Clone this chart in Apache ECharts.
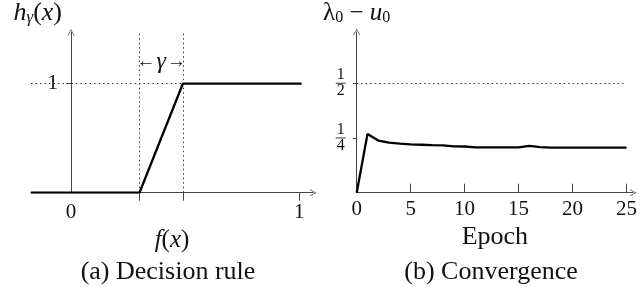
<!DOCTYPE html>
<html><head><meta charset="utf-8">
<script src="https://cdn.jsdelivr.net/npm/echarts@6/dist/echarts.min.js"></script>
<style>html,body{margin:0;padding:0;background:#fff}#c{width:640px;height:287px}</style>
</head><body><div id="c"></div>
<script>
// Left panel: decision rule h_gamma(x)
const fxPoints = [-0.175, 0.3, 0.49, 1.01];
const hPoints = [0, 0, 1, 1];
const rampStart = 0.3, rampEnd = 0.49;
const leftXTickLabels = [0, 1];
const leftXTicks = [0.3, 0.49, 1];
const leftYTicks = [1];
// Right panel: convergence
const epochs = [0,1,2,3,4,5,6,7,8,9,10,11,12,13,14,15,16,17,18,19,20,21,22,23,24,25];
const gap = [0,0.268,0.238,0.229,0.224,0.221,0.219,0.217,0.216,0.212,0.211,0.207,0.207,0.207,0.207,0.207,0.214,0.208,0.206,0.206,0.206,0.206,0.206,0.206,0.206,0.206];
const rightXTicks = [0,5,10,15,20,25];
const rightYTicks = [0.25, 0.5];
const fracText = {0.25: ['1','4'], 0.5: ['1','2']};

const FONT = 'Liberation Serif';
const axisCol = '#444';
const chevron = 'path://M5,0 L10,9 L9.2,9.5 L5,2 L0.8,9.5 L0,9 Z';
const dotted = {color:'#333', type:[1.5,3], width:1};

const chart = echarts.init(document.getElementById('c'), null, {renderer:'canvas'});
chart.setOption({
  animation:false,
  textStyle:{fontFamily:FONT},
  title:[
    {text:'(a) Decision rule', left:163, top:254, textAlign:'center', textStyle:{fontFamily:FONT,fontSize:26,fontWeight:'normal',color:'#111'}},
    {text:'(b) Convergence', left:486, top:254, textAlign:'center', textStyle:{fontFamily:FONT,fontSize:26,fontWeight:'normal',color:'#111'}}
  ],
  grid:[
    {left:31, top:32, width:282, height:160.7},
    {left:356.7, top:32, width:278.3, height:160.7}
  ],
  xAxis:[
    {gridIndex:0, type:'value', min:-0.175, max:1.06,
     name:'{i|f}{n|(}{i|x}{n|)}', nameLocation:'middle', nameGap:26,
     nameTextStyle:{rich:{i:{fontFamily:FONT,fontStyle:'italic',fontSize:25,color:'#111'},n:{fontFamily:FONT,fontSize:25,color:'#111'}}},
     axisLine:{onZero:false, lineStyle:{color:axisCol,width:1}, symbol:['none',chevron], symbolSize:[7,9]},
     axisTick:{show:true, customValues:leftXTicks, length:8, lineStyle:{color:axisCol}},
     axisLabel:{customValues:leftXTickLabels, fontFamily:FONT, fontSize:21, color:'#111', margin:9},
     splitLine:{show:false}},
    {gridIndex:1, type:'value', min:0, max:25.6,
     name:'Epoch', nameLocation:'middle', nameGap:26,
     nameTextStyle:{fontFamily:FONT,fontSize:26,color:'#111'},
     axisLine:{onZero:false, lineStyle:{color:axisCol,width:1}, symbol:['none',chevron], symbolSize:[7,9]},
     axisTick:{show:true, customValues:rightXTicks, inside:true, length:9, lineStyle:{color:axisCol}},
     axisLabel:{customValues:rightXTicks, fontFamily:FONT, fontSize:21, color:'#111', margin:6},
     splitLine:{show:false}}
  ],
  yAxis:[
    {gridIndex:0, type:'value', min:0, max:1.47, offset:-40,
     name:'{i|h}{s|γ}{n|(}{i|x}{n|)}', nameLocation:'end', nameGap:6,
     nameTextStyle:{align:'right', padding:[0,9,0,0], rich:{i:{fontFamily:FONT,fontStyle:'italic',fontSize:26,color:'#111'},s:{fontFamily:FONT,fontStyle:'italic',fontSize:17,color:'#111',padding:[10,0,0,0]},n:{fontFamily:FONT,fontSize:26,color:'#111'}}},
     axisLine:{show:true, onZero:false, lineStyle:{color:axisCol,width:1}, symbol:['none',chevron], symbolSize:[7,9]},
     axisTick:{show:true, customValues:leftYTicks, length:5, lineStyle:{color:axisCol}},
     axisLabel:{customValues:leftYTicks, fontFamily:FONT, fontSize:21, color:'#111', margin:13},
     splitLine:{show:false}},
    {gridIndex:1, type:'value', min:0, max:0.734,
     name:'{g|λ}{s|0}{n| − }{i|u}{s|0}', nameLocation:'end', nameGap:6,
     nameTextStyle:{rich:{g:{fontFamily:FONT,fontSize:25,color:'#111'},i:{fontFamily:FONT,fontStyle:'italic',fontSize:25,color:'#111'},s:{fontFamily:FONT,fontSize:16,color:'#111',padding:[10,0,0,0]},n:{fontFamily:FONT,fontSize:25,color:'#111'}}},
     axisLine:{show:true, onZero:false, lineStyle:{color:axisCol,width:1}, symbol:['none',chevron], symbolSize:[7,9]},
     axisTick:{show:true, customValues:rightYTicks, length:4, lineStyle:{color:axisCol}},
     axisLabel:{customValues:rightYTicks, margin:11,
       formatter:v=>{const f=fracText[v]; return '{n|'+f[0]+'}\n{b|}\n{n|'+f[1]+'}';},
       rich:{n:{fontFamily:FONT,fontSize:16,color:'#111',align:'center',lineHeight:14},b:{width:10,height:1,backgroundColor:'#333',align:'center',lineHeight:2}}},
     splitLine:{show:false}}
  ],
  series:[
    {type:'line', xAxisIndex:0, yAxisIndex:0, data:fxPoints.map((x,i)=>[x,hPoints[i]]),
     showSymbol:false, lineStyle:{color:'#000',width:2.3}, z:5,
     markLine:{silent:true, symbol:'none', label:{show:false}, lineStyle:dotted, data:[
       [{coord:[rampStart,0]},{coord:[rampStart,1.47]}],
       [{coord:[rampEnd,0]},{coord:[rampEnd,1.47]}],
       [{coord:[-0.175,1]},{coord:[rampEnd,1]}]
     ]},
     markPoint:{silent:true, symbol:'circle', symbolSize:0, data:[{coord:[(rampStart+rampEnd)/2,1.2]}],
       label:{show:true, position:'inside', formatter:'{n|←}{i|γ}{n|→}',
         rich:{n:{fontFamily:FONT,fontSize:19,color:'#111'},i:{fontFamily:FONT,fontStyle:'italic',fontSize:24,color:'#111',padding:[0,1,0,1]}}}}
    },
    {type:'line', xAxisIndex:1, yAxisIndex:1, data:epochs.map((e,i)=>[e,gap[i]]),
     showSymbol:false, smooth:false, lineStyle:{color:'#000',width:2.3}, z:5,
     markLine:{silent:true, symbol:'none', label:{show:false}, lineStyle:dotted, data:[
       [{coord:[0,0.5]},{coord:[25,0.5]}]
     ]}
    }
  ]
});
</script></body></html>
